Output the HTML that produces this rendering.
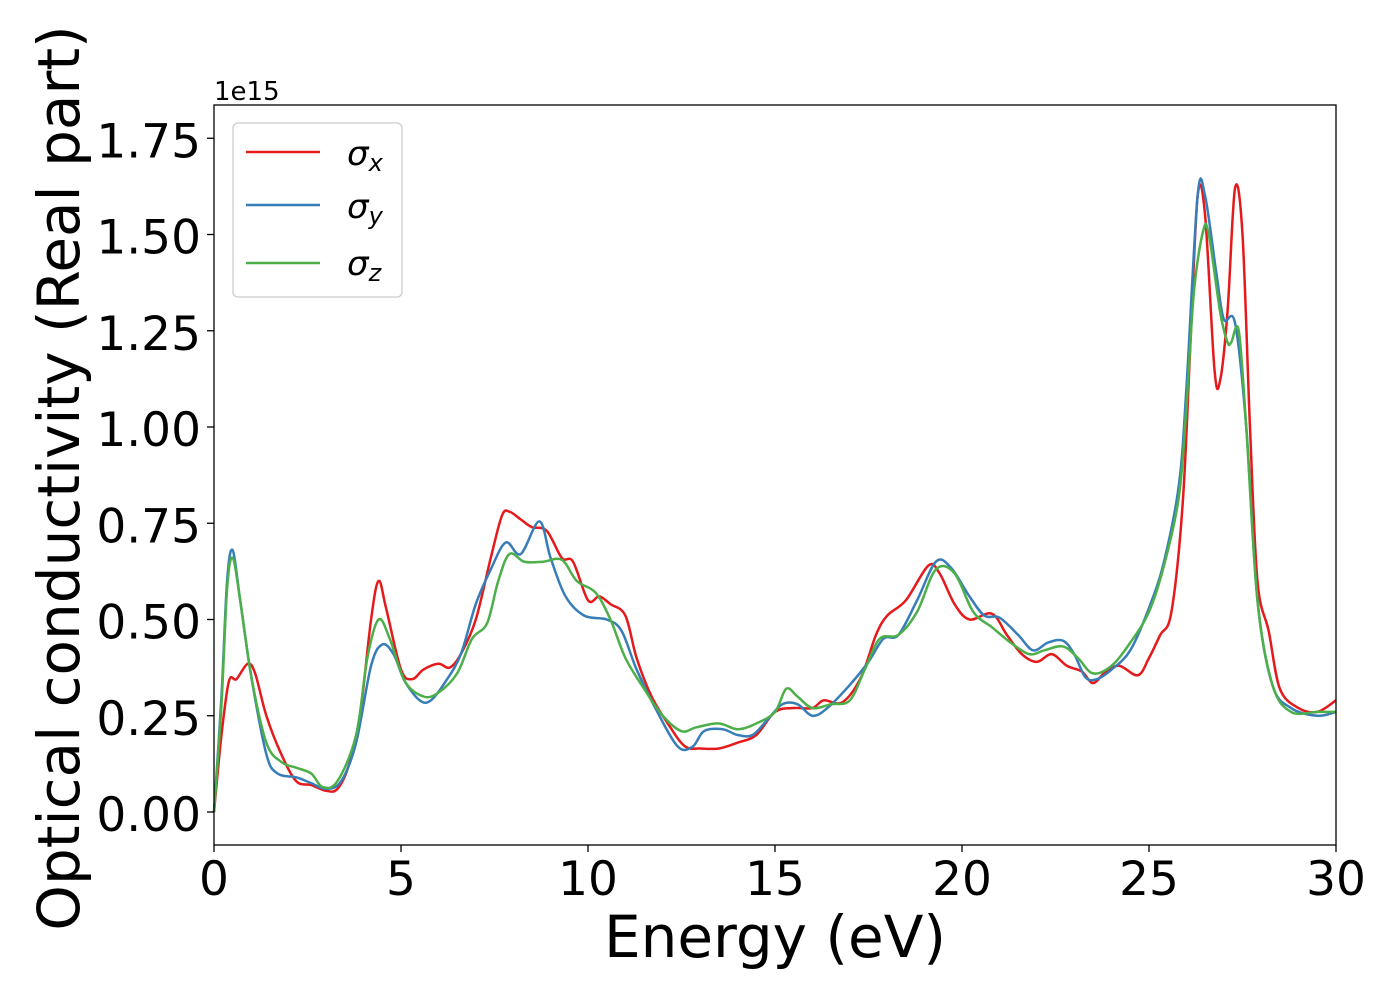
<!DOCTYPE html>
<html><head><meta charset="utf-8"><style>
html,body{margin:0;padding:0;background:#fff;}
svg{display:block;font-family:"DejaVu Sans","Liberation Sans",sans-serif;}
</style></head><body>
<svg id="chart" width="1400" height="1000">
<rect x="0" y="0" width="1400" height="1000" fill="#fff"/>
<g id="series"></g>
<rect x="214" y="105" width="1122" height="740" fill="none" stroke="#000" stroke-width="1.3"/>
<g id="axes"></g>
<text x="214" y="100" font-size="26">1e15</text>
<text x="775" y="957" font-size="58" text-anchor="middle">Energy (eV)</text>
<text transform="translate(79,478) rotate(-90)" font-size="58" text-anchor="middle">Optical conductivity (Real part)</text>
<g>
<rect x="233" y="123" width="169" height="174" rx="5" fill="#fff" fill-opacity="0.8" stroke="#ccc" stroke-width="1.3"/>
<line x1="246" y1="152" x2="320" y2="152" stroke="#e41a1c" stroke-width="2.5"/>
<line x1="246" y1="205" x2="320" y2="205" stroke="#377eb8" stroke-width="2.5"/>
<line x1="246" y1="263" x2="320" y2="263" stroke="#4daf4a" stroke-width="2.5"/>
<text x="347" y="165" font-size="34" font-style="italic">σ<tspan font-size="24" dy="6">x</tspan></text>
<text x="347" y="218" font-size="34" font-style="italic">σ<tspan font-size="24" dy="6">y</tspan></text>
<text x="347" y="275" font-size="34" font-style="italic">σ<tspan font-size="24" dy="6">z</tspan></text>
</g>
</svg>
<script>
const xTicks=[0,5,10,15,20,25,30];
const yTicks=[0,0.25,0.5,0.75,1.0,1.25,1.5,1.75];
const sigmaX=[[0,0],[0.2,0.2],[0.4,0.34],[0.6,0.345],[0.9,0.385],[1.1,0.36],[1.4,0.25],[1.8,0.15],[2.2,0.08],[2.6,0.07],[3.0,0.055],[3.3,0.06],[3.6,0.12],[3.9,0.25],[4.2,0.5],[4.4,0.6],[4.6,0.53],[5.0,0.37],[5.3,0.345],[5.6,0.37],[6.0,0.385],[6.3,0.375],[6.6,0.41],[7.0,0.5],[7.4,0.66],[7.7,0.77],[7.9,0.78],[8.2,0.76],[8.5,0.74],[8.9,0.73],[9.3,0.66],[9.6,0.65],[10.0,0.55],[10.3,0.56],[10.6,0.54],[11.0,0.51],[11.3,0.4],[11.7,0.3],[12.2,0.22],[12.6,0.17],[13.0,0.165],[13.5,0.165],[14.0,0.18],[14.5,0.2],[15.0,0.26],[15.5,0.27],[16.0,0.27],[16.3,0.29],[16.8,0.285],[17.3,0.35],[17.7,0.46],[18.0,0.51],[18.5,0.55],[19.1,0.64],[19.4,0.62],[19.8,0.54],[20.2,0.5],[20.8,0.515],[21.2,0.46],[21.6,0.41],[22.0,0.39],[22.4,0.41],[22.8,0.38],[23.2,0.365],[23.5,0.335],[23.8,0.36],[24.2,0.38],[24.7,0.355],[25.0,0.4],[25.3,0.46],[25.6,0.52],[25.9,0.8],[26.1,1.2],[26.3,1.6],[26.5,1.55],[26.75,1.15],[26.9,1.12],[27.1,1.3],[27.3,1.62],[27.5,1.5],[27.7,1.0],[27.9,0.6],[28.2,0.47],[28.5,0.32],[29.0,0.27],[29.5,0.26],[30,0.29]];
const sigmaY=[[0,0],[0.2,0.3],[0.35,0.6],[0.5,0.68],[0.7,0.55],[1.0,0.35],[1.4,0.15],[1.7,0.1],[2.2,0.09],[2.6,0.075],[3.0,0.06],[3.4,0.08],[3.8,0.18],[4.2,0.38],[4.5,0.435],[4.8,0.41],[5.1,0.34],[5.5,0.29],[5.8,0.29],[6.2,0.34],[6.6,0.41],[7.0,0.54],[7.4,0.63],[7.8,0.7],[8.2,0.67],[8.7,0.755],[9.0,0.66],[9.4,0.56],[9.9,0.51],[10.5,0.5],[10.9,0.47],[11.3,0.37],[11.8,0.27],[12.4,0.17],[12.8,0.17],[13.1,0.21],[13.6,0.215],[14.0,0.2],[14.4,0.2],[14.8,0.24],[15.2,0.28],[15.6,0.28],[16.0,0.25],[16.4,0.27],[17.0,0.33],[17.5,0.39],[17.9,0.45],[18.3,0.46],[18.8,0.55],[19.3,0.65],[19.7,0.635],[20.2,0.56],[20.6,0.51],[21.0,0.505],[21.5,0.46],[21.9,0.42],[22.3,0.44],[22.7,0.445],[23.0,0.41],[23.3,0.35],[23.6,0.345],[24.0,0.37],[24.5,0.42],[25.0,0.53],[25.4,0.65],[25.8,0.85],[26.0,1.1],[26.3,1.6],[26.5,1.6],[26.8,1.4],[27.0,1.28],[27.3,1.27],[27.6,1.0],[27.9,0.55],[28.3,0.33],[28.8,0.27],[29.5,0.25],[30,0.26]];
const sigmaZ=[[0,0],[0.2,0.28],[0.35,0.58],[0.5,0.66],[0.7,0.55],[1.0,0.35],[1.4,0.18],[1.8,0.13],[2.2,0.115],[2.6,0.1],[2.9,0.065],[3.3,0.08],[3.8,0.2],[4.1,0.4],[4.4,0.5],[4.7,0.45],[5.1,0.34],[5.6,0.3],[6.0,0.31],[6.5,0.36],[6.9,0.45],[7.3,0.49],[7.6,0.6],[7.9,0.67],[8.3,0.65],[8.8,0.65],[9.3,0.655],[9.7,0.6],[10.2,0.57],[10.6,0.5],[11.0,0.4],[11.5,0.32],[12.0,0.25],[12.5,0.21],[12.9,0.22],[13.5,0.23],[14.0,0.215],[14.5,0.23],[15.0,0.26],[15.3,0.32],[15.6,0.3],[16.0,0.27],[16.5,0.28],[17.0,0.29],[17.4,0.37],[17.8,0.45],[18.3,0.46],[18.8,0.52],[19.3,0.63],[19.8,0.62],[20.3,0.52],[20.8,0.48],[21.3,0.44],[21.8,0.41],[22.2,0.42],[22.7,0.43],[23.1,0.4],[23.5,0.36],[24.0,0.38],[24.5,0.44],[25.0,0.52],[25.4,0.64],[25.8,0.82],[26.0,1.05],[26.2,1.35],[26.45,1.51],[26.6,1.5],[26.9,1.3],[27.1,1.22],[27.2,1.22],[27.4,1.25],[27.6,1.0],[27.9,0.55],[28.3,0.33],[28.8,0.26],[29.5,0.26],[30,0.26]];

const NS='http://www.w3.org/2000/svg';
const X0=214,X1=1336,Y0=812,YPER=385;
function sx(v){return X0+(v-0)/30*(X1-X0);}
function sy(v){return Y0-v*YPER;}
const axes=document.getElementById('axes');
xTicks.forEach(t=>{
  const l=document.createElementNS(NS,'line');
  l.setAttribute('x1',sx(t));l.setAttribute('x2',sx(t));l.setAttribute('y1',845);l.setAttribute('y2',852);
  l.setAttribute('stroke','#000');l.setAttribute('stroke-width','1.3');
  
  
  axes.appendChild(l);
  const tx=document.createElementNS(NS,'text');
  tx.setAttribute('x',sx(t));tx.setAttribute('y',895);tx.setAttribute('font-size','47');tx.setAttribute('text-anchor','middle');
  tx.textContent=t;
  
  
  axes.appendChild(tx);
});
yTicks.forEach(t=>{
  const l=document.createElementNS(NS,'line');
  l.setAttribute('x1',207);l.setAttribute('x2',214);l.setAttribute('y1',sy(t));l.setAttribute('y2',sy(t));
  l.setAttribute('stroke','#000');l.setAttribute('stroke-width','1.3');
  
  
  axes.appendChild(l);
  const tx=document.createElementNS(NS,'text');
  tx.setAttribute('x',201);tx.setAttribute('y',sy(t)+19);tx.setAttribute('font-size','47');tx.setAttribute('text-anchor','end');
  tx.textContent=t.toFixed(2);
  
  
  axes.appendChild(tx);
});
function pathFor(data){
  const p=data.map(d=>[sx(d[0]),sy(d[1])]);
  let s='M'+p[0][0]+','+p[0][1];
  for(let i=0;i<p.length-1;i++){
    const a=p[Math.max(0,i-1)],b=p[i],c=p[i+1],d=p[Math.min(p.length-1,i+2)];
    const c1=[b[0]+(c[0]-a[0])/6,b[1]+(c[1]-a[1])/6];
    const c2=[c[0]-(d[0]-b[0])/6,c[1]-(d[1]-b[1])/6];
    s+=' C'+c1[0]+','+c1[1]+' '+c2[0]+','+c2[1]+' '+c[0]+','+c[1];
  }
  return s;
}
const g=document.getElementById('series');
[[sigmaX,'#e41a1c','line-sigma-x'],[sigmaY,'#377eb8','line-sigma-y'],[sigmaZ,'#4daf4a','line-sigma-z']].forEach(([d,c,n])=>{
  const p=document.createElementNS(NS,'path');
  p.setAttribute('d',pathFor(d));p.setAttribute('fill','none');p.setAttribute('stroke',c);p.setAttribute('stroke-width','2.5');
  
  
  g.appendChild(p);
});
</script>
</body></html>
